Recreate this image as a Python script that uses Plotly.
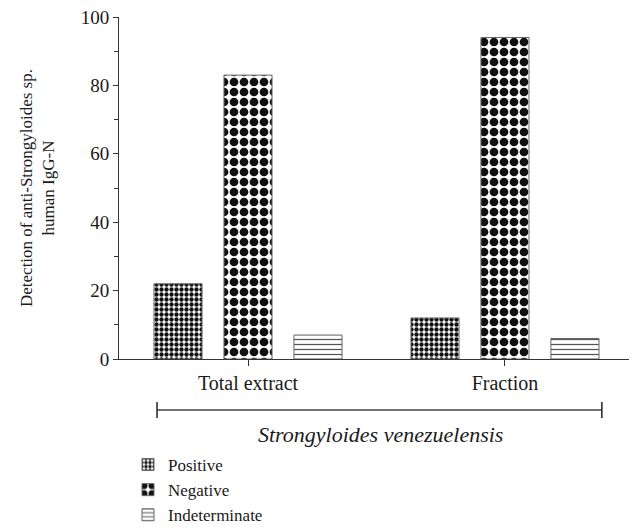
import plotly.graph_objects as go

categories = ["Total extract", "Fraction"]
series_names = ["Positive", "Negative", "Indeterminate"]
positive = [22, 12]
negative = [83, 94]
indeterminate = [7, 6]
y_ticks = [0, 20, 40, 60, 80, 100]

FONT = "Liberation Serif"
INK = "#1a1a1a"

patterns = [
    dict(shape=".", size=5, solidity=0.6, fgcolor="#111", fgopacity=1, bgcolor="white", fillmode="replace"),
    dict(shape=".", size=10, solidity=0.6, fgcolor="#111", fgopacity=1, bgcolor="white", fillmode="replace"),
    dict(shape="-", size=5, solidity=0.25, fgcolor="#555", fgopacity=1, bgcolor="white", fillmode="replace"),
]

fig = go.Figure()
for name, vals, pat in zip(series_names, [positive, negative, indeterminate], patterns):
    fig.add_trace(go.Bar(
        x=categories, y=vals, name=name,
        marker=dict(color="white", pattern=pat, line=dict(color="#666", width=1)),
    ))

OFF = 8  # page body margin
W, H = 637 - OFF, 531 - OFF
L, T = 119 - OFF, 17 - OFF
R = W - (635 - OFF)
B = H - (359 - OFF)
PW = W - L - R
PH = H - T - B

def px_to_paper_x(px):
    return (px - OFF - L) / PW

def px_to_paper_y(py):
    return (H - B - (py - OFF)) / PH

fig.update_layout(
    width=W, height=H,
    margin=dict(l=L, r=R, t=T, b=B, autoexpand=False),
    paper_bgcolor="white", plot_bgcolor="white",
    barmode="group", bargap=0.183, bargroupgap=0.313,
    font=dict(family=FONT, size=18, color=INK),
    showlegend=True,
    legend=dict(x=px_to_paper_x(128), y=px_to_paper_y(447), xanchor="left", yanchor="top",
                font=dict(family=FONT, size=17, color=INK),
                itemwidth=30, tracegroupgap=0, bgcolor="rgba(0,0,0,0)"),
    xaxis=dict(
        type="category", range=[-0.502, 1.506], automargin=False,
        showline=True, linecolor="#333", linewidth=1,
        ticks="outside", ticklen=6, tickcolor="#333",
        showgrid=False, zeroline=False,
        tickfont=dict(family=FONT, size=20, color=INK),
    ),
    yaxis=dict(
        range=[0, 100], tickvals=y_ticks, automargin=False,
        ticklabeloverflow="allow",
        showline=True, linecolor="#333", linewidth=1,
        ticks="outside", ticklen=5, tickcolor="#333",
        minor=dict(dtick=10, ticks="outside", ticklen=4, tickcolor="#333"),
        showgrid=False, zeroline=False,
        tickfont=dict(family=FONT, size=19, color=INK),
    ),
)

fig.add_annotation(xref="paper", yref="paper", x=px_to_paper_x(37), y=px_to_paper_y(188),
                   text="Detection of anti-Strongyloides sp.<br>human IgG-N", textangle=-90,
                   showarrow=False, font=dict(family=FONT, size=17, color=INK),
                   xanchor="center", yanchor="middle")

# bracket under categories
by = px_to_paper_y(410)
fig.add_shape(type="line", xref="x", yref="paper", x0=-0.354, x1=1.377, y0=by, y1=by,
              line=dict(color="#444", width=1.5))
for xx in [-0.354, 1.377]:
    fig.add_shape(type="line", xref="x", yref="paper", x0=xx, x1=xx,
                  y0=px_to_paper_y(402), y1=px_to_paper_y(418),
                  line=dict(color="#222", width=1.5))
fig.add_annotation(xref="paper", yref="paper", x=px_to_paper_x(380), y=px_to_paper_y(434),
                   text="<i>Strongyloides venezuelensis</i>", showarrow=False,
                   font=dict(family=FONT, size=22, color=INK), xanchor="center", yanchor="middle")

fig.write_html("out.html")
